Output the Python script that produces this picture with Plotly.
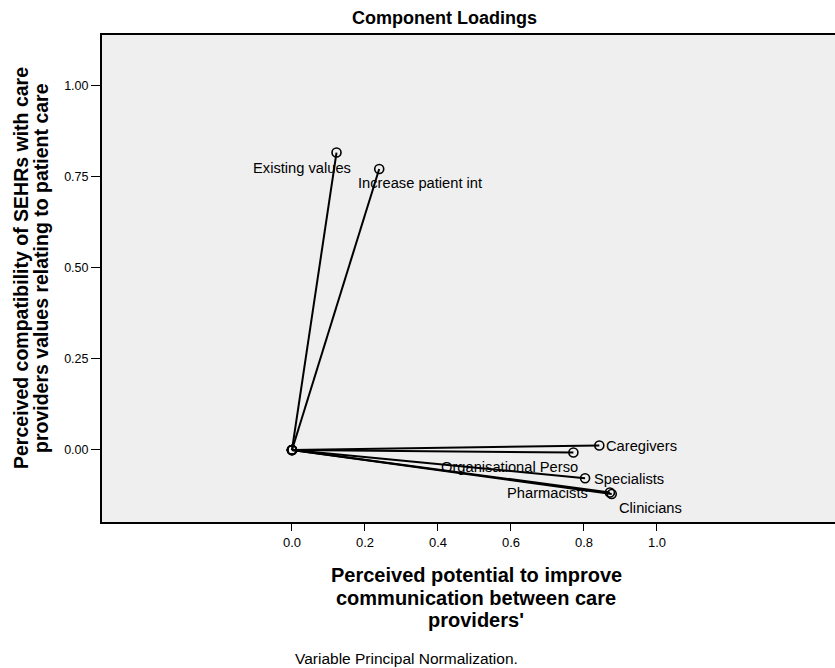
import plotly.graph_objects as go

labels = ["Existing values", "Increase patient int", "Caregivers", "Organisational Perso",
          "Specialists", "Pharmacists", "Clinicians"]
dim1 = [0.122, 0.239, 0.842, 0.771, 0.803, 0.871, 0.876]
dim2 = [0.817, 0.772, 0.012, -0.007, -0.078, -0.117, -0.121]

x_title_lines = ["Perceived potential to improve", "communication between care", "providers'"]
y_title_lines = ["Perceived compatibility of SEHRs with care",
                 "providers values relating to patient care"]

# label placement (style only): xanchor, xshift, yshift in px
label_style = {
    "Existing values": ("right", 16, -15),
    "Increase patient int": ("left", -23, -14),
    "Caregivers": ("left", 5, 0),
    "Organisational Perso": ("right", 7, -15),
    "Specialists": ("left", 7, -1),
    "Pharmacists": ("right", -20, 0),
    "Clinicians": ("left", 5, -14),
}

W, H = 835, 668
L, R, T, B = 102, 0, 35, 146
pw, ph = W - L - R, H - T - B

def px(xp):
    return (xp - L) / pw

def py(yp):
    return (H - B - yp) / ph

FONT = "Liberation Sans, Arial, sans-serif"

fig = go.Figure()
for lab, a, b in zip(labels, dim1, dim2):
    fig.add_trace(go.Scatter(
        x=[0, a], y=[0, b], mode="lines+markers",
        line=dict(color="black", width=2),
        marker=dict(symbol="circle-open", size=9, color="black", line=dict(width=1.6)),
        showlegend=False, hoverinfo="skip"))

annotations = []
for lab, a, b in zip(labels, dim1, dim2):
    xa, xs, ys = label_style[lab]
    annotations.append(dict(x=a, y=b, xref="x", yref="y", text=lab, showarrow=False,
                            xanchor=xa, yanchor="middle", xshift=xs, yshift=ys,
                            font=dict(family=FONT, size=14.7, color="black")))

annotations.append(dict(text="<b>Component Loadings</b>", xref="paper", yref="paper",
                        x=px(444), y=py(18), xanchor="center", yanchor="middle",
                        showarrow=False, font=dict(family=FONT, size=18, color="black")))

for i, line in enumerate(x_title_lines):
    annotations.append(dict(text="<b>%s</b>" % line, xref="paper", yref="paper",
                            x=px(476), y=py(575 + 22.5 * i), xanchor="center",
                            yanchor="middle", showarrow=False,
                            font=dict(family=FONT, size=20, color="black")))

for i, line in enumerate(y_title_lines):
    annotations.append(dict(text="<b>%s</b>" % line, xref="paper", yref="paper",
                            x=px(21 + 20 * i), y=py(268), xanchor="center",
                            yanchor="middle", textangle=-90, showarrow=False,
                            font=dict(family=FONT, size=19.5, color="black")))

annotations.append(dict(text="Variable Principal Normalization.", xref="paper", yref="paper",
                        x=px(293), y=py(658), xanchor="left", yanchor="middle",
                        showarrow=False, font=dict(family=FONT, size=15.5, color="black")))

fig.update_layout(
    width=W, height=H,
    margin=dict(l=L, r=R, t=T, b=B),
    paper_bgcolor="white", plot_bgcolor="#efefef",
    annotations=annotations,
    xaxis=dict(range=[-0.5205, 1.4877], tickvals=[0, 0.2, 0.4, 0.6, 0.8, 1.0],
               tickformat=".1f", ticks="outside", ticklen=7, tickcolor="black",
               showgrid=False, zeroline=False, showline=True, linecolor="black",
               linewidth=2, mirror=True,
               tickfont=dict(family=FONT, size=13, color="black")),
    yaxis=dict(range=[-0.198, 1.140], tickvals=[0, 0.25, 0.5, 0.75, 1.0],
               tickformat=".2f", ticks="outside", ticklen=9, tickcolor="black",
               showgrid=False, zeroline=False, showline=True, linecolor="black",
               linewidth=2, mirror=False,
               tickfont=dict(family=FONT, size=12.5, color="black")),
)

fig.write_html("out.html")
